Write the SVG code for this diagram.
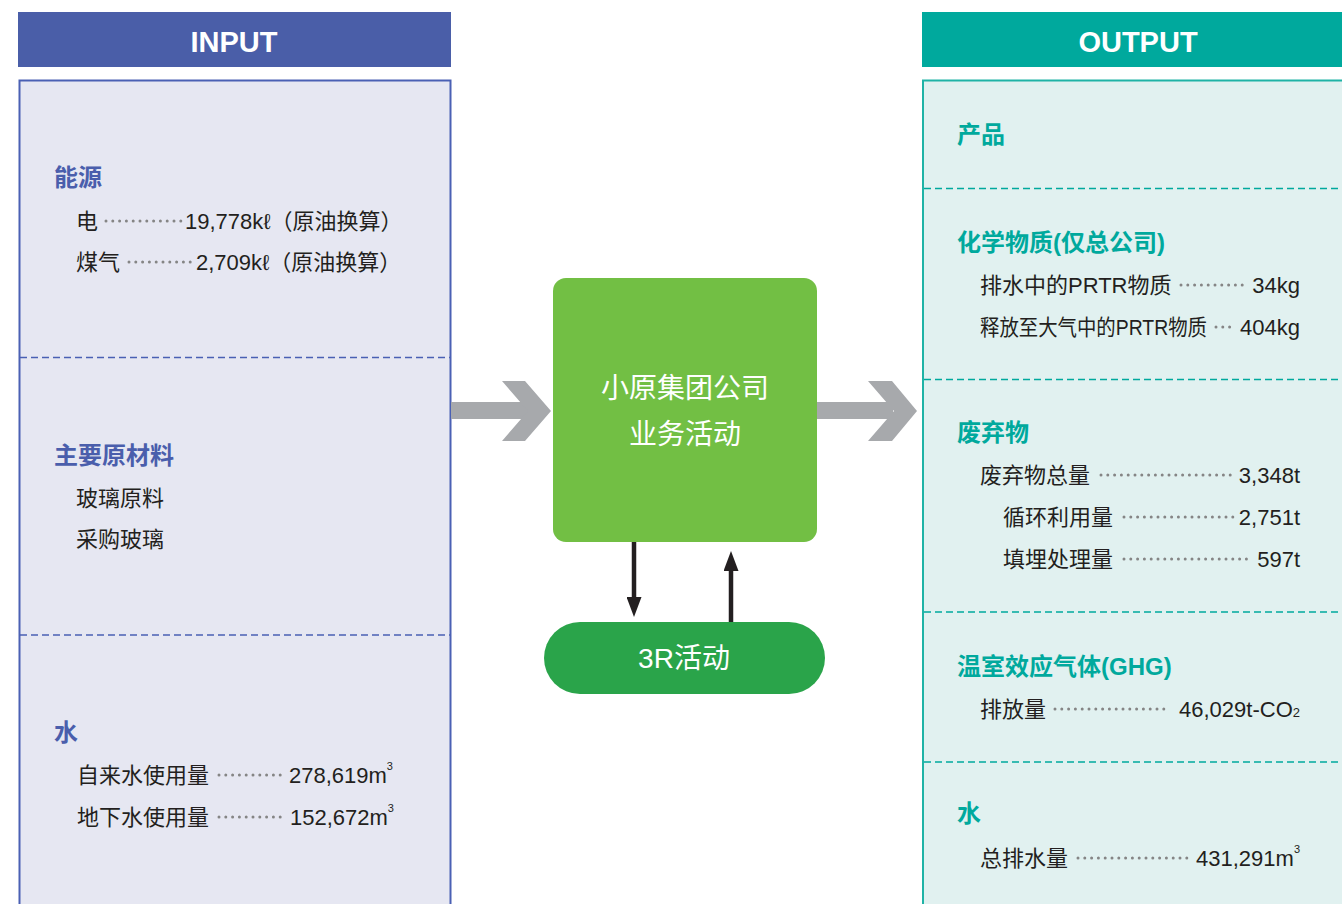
<svg xmlns="http://www.w3.org/2000/svg" width="1342" height="904" viewBox="0 0 1342 904">
<style>
text{font-family:"Liberation Sans","Noto Sans CJK SC",sans-serif}
.hdr{font-size:29px;font-weight:bold;fill:#fff;text-anchor:middle}
.hin{font-size:24px;font-weight:bold;fill:#4a5eac}
.hout{font-size:24px;font-weight:bold;fill:#00a99d}
.t{font-size:22px;fill:#231f20}
.v{font-size:22px;fill:#231f20;text-anchor:end}
.dots{stroke:#858585;stroke-width:3;stroke-linecap:round;stroke-dasharray:0 6.8;fill:none}
.dashin{stroke:#4a60b4;stroke-width:1.5;stroke-dasharray:7 4;fill:none}
.dashout{stroke:#00a99d;stroke-width:1.5;stroke-dasharray:7 4;fill:none}
.gray{fill:#a7a9ac}
.blk{stroke:#231f20;stroke-width:4.5;fill:none}
.ctr{font-size:28px;fill:#fff;text-anchor:middle}
</style>
<defs>
<marker id="ah" viewBox="0 0 20 15" refX="1" refY="7.5" markerWidth="20" markerHeight="15" markerUnits="userSpaceOnUse" orient="auto">
<path d="M0,0 L20,7.5 L0,15 z" fill="#231f20"/>
</marker>
</defs>
<rect width="1342" height="904" fill="#fff"/>

<g id="input-header">
<rect x="18" y="12" width="433" height="55" fill="#4a5ea8"/>
<text class="hdr" x="234" y="52">INPUT</text>
</g>

<g id="input-panel">
<rect x="19.5" y="80.5" width="431" height="840" fill="#e6e7f2" stroke="#4a60b4" stroke-width="2"/>
<line class="dashin" x1="20" y1="357.5" x2="450" y2="357.5"/>
<line class="dashin" x1="20" y1="635" x2="450" y2="635"/>
<g id="energy">
<text class="hin" x="54" y="186">能源</text>
<text class="t" x="76" y="229">电</text>
<line class="dots" x1="106" y1="221" x2="182" y2="221"/>
<text class="t" x="185" y="229">19,778kℓ（原油换算）</text>
<text class="t" x="76" y="270">煤气</text>
<line class="dots" x1="129" y1="262" x2="193" y2="262"/>
<text class="t" x="196" y="270">2,709kℓ（原油换算）</text>
</g>
<g id="materials">
<text class="hin" x="54" y="464">主要原材料</text>
<text class="t" x="76" y="506">玻璃原料</text>
<text class="t" x="76" y="547">采购玻璃</text>
</g>
<g id="water-in">
<text class="hin" x="54" y="741">水</text>
<text class="t" x="77" y="783">自来水使用量</text>
<line class="dots" x1="219" y1="775" x2="286" y2="775"/>
<text class="t" x="289" y="783">278,619m<tspan font-size="11" dy="-13">3</tspan></text>
<text class="t" x="77" y="825">地下水使用量</text>
<line class="dots" x1="219" y1="817" x2="286" y2="817"/>
<text class="t" x="290" y="825">152,672m<tspan font-size="11" dy="-13">3</tspan></text>
</g>
</g>

<g id="output-header">
<rect x="922" y="12" width="420" height="55" fill="#00a99d"/>
<text class="hdr" x="1138" y="52">OUTPUT</text>
</g>

<g id="output-panel">
<rect x="923" y="80.5" width="440" height="840" fill="#e1f1f0" stroke="#1fb3a6" stroke-width="2"/>
<line class="dashout" x1="924" y1="188.5" x2="1342" y2="188.5"/>
<line class="dashout" x1="924" y1="379.5" x2="1342" y2="379.5"/>
<line class="dashout" x1="924" y1="612" x2="1342" y2="612"/>
<line class="dashout" x1="924" y1="762" x2="1342" y2="762"/>
<g id="product">
<text class="hout" x="957" y="143">产品</text>
</g>
<g id="chemicals">
<text class="hout" x="957" y="251">化学物质(仅总公司)</text>
<text class="t" x="980" y="293">排水中的PRTR物质</text>
<line class="dots" x1="1181" y1="285" x2="1246" y2="285"/>
<text class="v" x="1300" y="293">34kg</text>
<text class="t" x="980" y="335" textLength="227" lengthAdjust="spacingAndGlyphs">释放至大气中的PRTR物质</text>
<line class="dots" x1="1216" y1="327" x2="1235" y2="327"/>
<text class="v" x="1300" y="335">404kg</text>
</g>
<g id="waste">
<text class="hout" x="957" y="441">废弃物</text>
<text class="t" x="980" y="483">废弃物总量</text>
<line class="dots" x1="1101" y1="475" x2="1233" y2="475"/>
<text class="v" x="1300" y="483">3,348t</text>
<text class="t" x="1003" y="525">循环利用量</text>
<line class="dots" x1="1124" y1="517" x2="1233" y2="517"/>
<text class="v" x="1300" y="525">2,751t</text>
<text class="t" x="1003" y="567">填埋处理量</text>
<line class="dots" x1="1124" y1="559" x2="1252" y2="559"/>
<text class="v" x="1300" y="567">597t</text>
</g>
<g id="ghg">
<text class="hout" x="957" y="675">温室效应气体(GHG)</text>
<text class="t" x="980" y="717">排放量</text>
<line class="dots" x1="1055" y1="709" x2="1170" y2="709"/>
<text class="v" x="1300" y="717">46,029t-CO<tspan font-size="13">2</tspan></text>
</g>
<g id="water-out">
<text class="hout" x="957" y="822">水</text>
<text class="t" x="980" y="866">总排水量</text>
<line class="dots" x1="1078" y1="858" x2="1188" y2="858"/>
<text class="v" x="1300" y="866">431,291m<tspan font-size="11" dy="-13">3</tspan></text>
</g>
</g>

<g id="company">
<rect x="553" y="278" width="264" height="264" rx="13" fill="#72bf44"/>
<text class="ctr" x="685" y="398">小原集团公司</text>
<text class="ctr" x="685" y="444">业务活动</text>
</g>

<g id="activity-3r">
<rect x="544" y="622" width="281" height="72" rx="36" fill="#2aa44a"/>
<text class="ctr" x="684" y="668">3R活动</text>
</g>

<g id="connectors">
<rect class="gray" x="451" y="402" width="77" height="17"/>
<polygon class="gray" points="502,381 525,381 551,411 525,441 502,441 528,411"/>
<rect class="gray" x="817" y="402" width="76" height="17"/>
<polygon class="gray" points="868,381 892,381 917,411 892,441 868,441 894,411"/>
<line class="blk" x1="634" y1="542" x2="634" y2="598" marker-end="url(#ah)"/>
<line class="blk" x1="731" y1="622" x2="731" y2="570" marker-end="url(#ah)"/>
</g>
</svg>
